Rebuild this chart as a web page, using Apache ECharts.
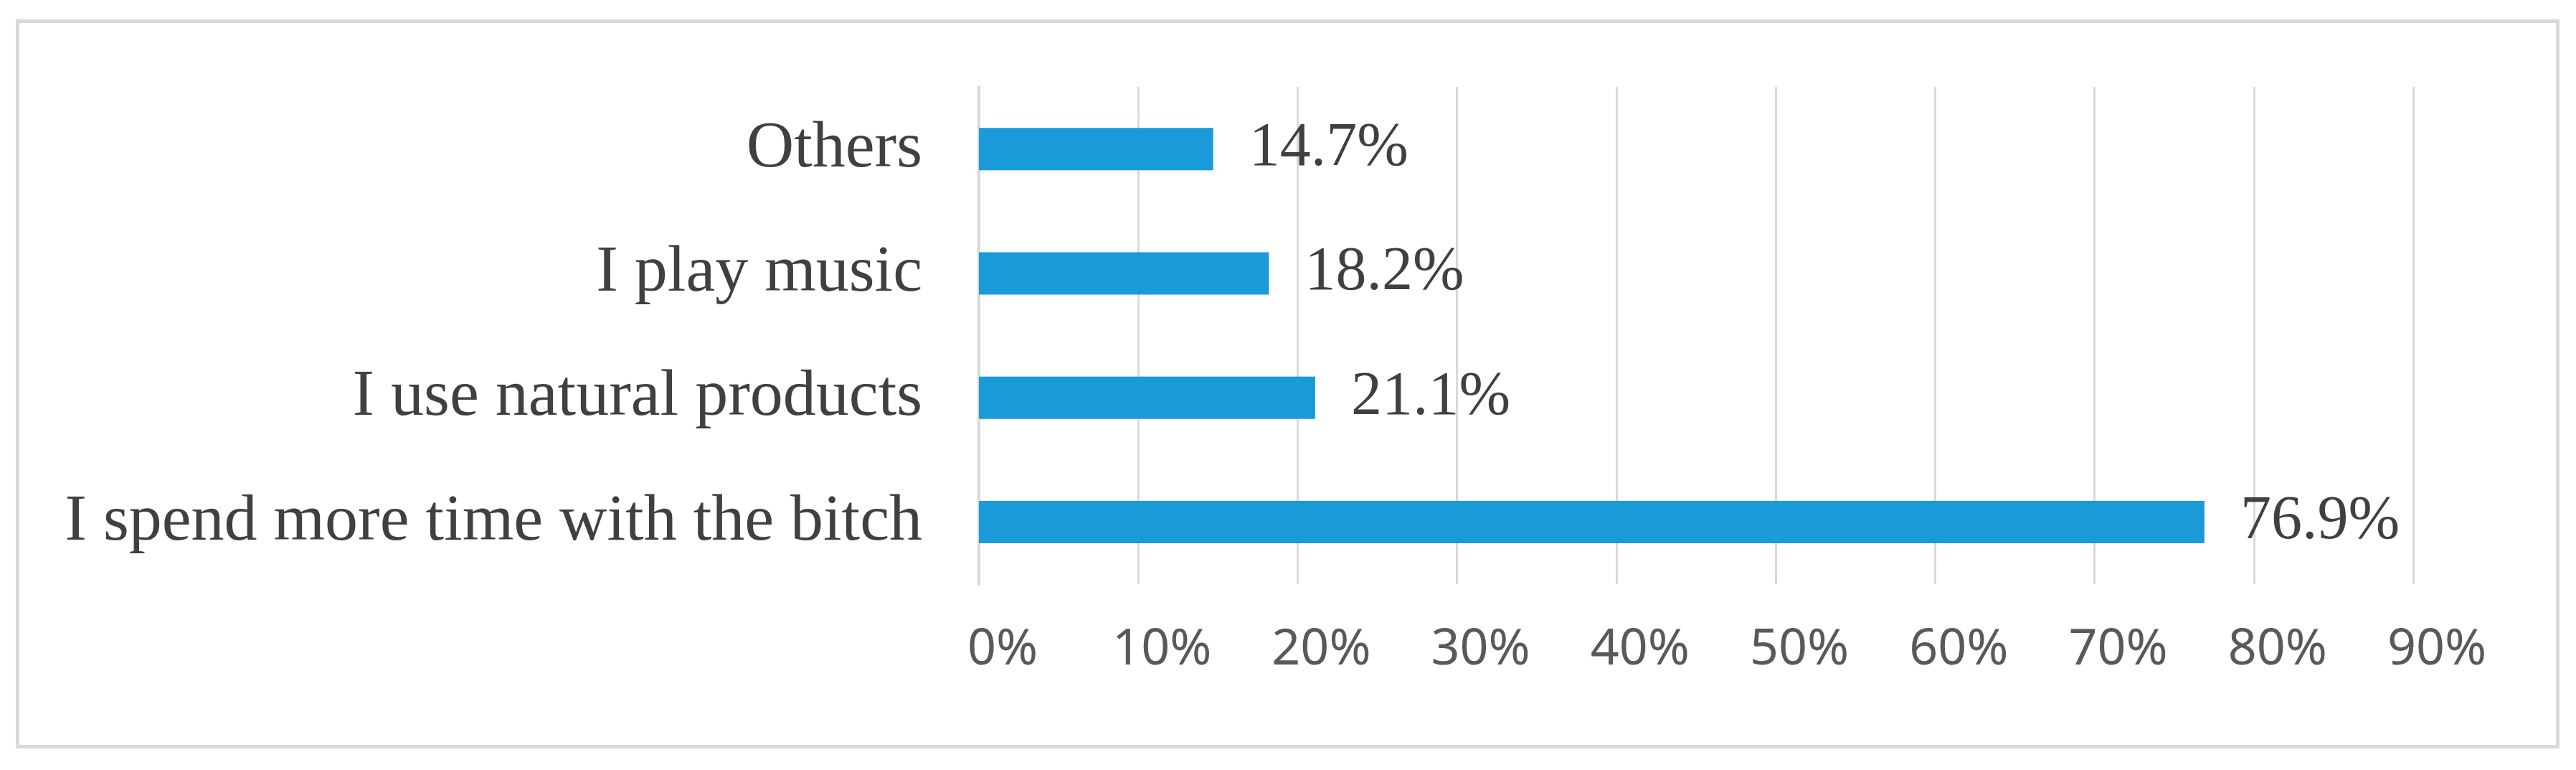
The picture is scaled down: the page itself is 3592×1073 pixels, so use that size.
<!DOCTYPE html>
<html>
<head>
<meta charset="utf-8">
<script src="https://cdn.jsdelivr.net/npm/echarts@6/dist/echarts.min.js"></script>
<style>
  html, body { margin: 0; padding: 0; background: #fff; }
  #chart { width: 3592px; height: 1073px; }
</style>
</head>
<body>
<div id="chart"></div>
<script>
// categories top to bottom
var categories = ['Others', 'I play music', 'I use natural products', 'I spend more time with the bitch']
var values = [14.7, 18.2, 21.1, 76.9]
var axisMin = 0
var axisMax = 90
var axisStep = 10

var chart = echarts.init(document.getElementById('chart'))
chart.setOption({
  backgroundColor: '#ffffff',
  animation: false,
  // outer frame
  graphic: [{
    type: 'rect',
    shape: { x: 24.5, y: 29.5, width: 3542, height: 1011 },
    style: { fill: 'none', stroke: '#d9d9d9', lineWidth: 5 }
  }],
  grid: {
    left: 1365,
    top: 121,
    width: 2000,
    height: 693
  },
  xAxis: {
    type: 'value',
    min: axisMin,
    max: axisMax,
    interval: axisStep,
    axisLine: { show: false },
    axisTick: { show: false },
    splitLine: { lineStyle: { color: '#d9d9d9', width: 3 } },
    axisLabel: {
      formatter: '{value}%',
      fontFamily: 'Noto Sans',
      fontSize: 70,
      color: '#595959',
      margin: 57,
      padding: [0, 0, 0, 66]
    }
  },
  yAxis: {
    type: 'category',
    data: categories,
    inverse: true,
    axisLine: { show: true, lineStyle: { color: '#d9d9d9', width: 4 } },
    axisTick: { show: false },
    axisLabel: {
      fontFamily: 'Liberation Serif',
      fontSize: 92,
      color: '#404040',
      margin: 79
    }
  },
  series: [{
    type: 'bar',
    data: values,
    barWidth: 59,
    itemStyle: { color: '#1a9ad8' },
    label: {
      show: true,
      position: 'right',
      distance: 50,
      formatter: '{c}%',
      fontFamily: 'Liberation Serif',
      fontSize: 86,
      color: '#404040'
    }
  }]
})
</script>
</body>
</html>
